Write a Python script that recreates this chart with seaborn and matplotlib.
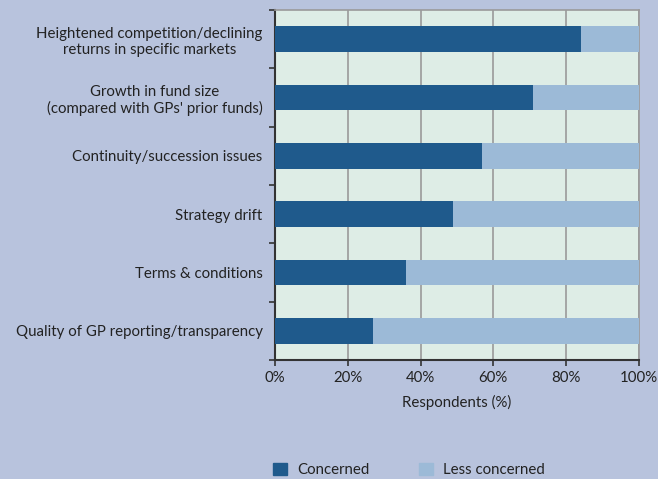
import numpy as np
import pandas as pd
import matplotlib
matplotlib.use("Agg")
import matplotlib.pyplot as plt
import matplotlib.patches as mpatches
import seaborn as sns

categories = [
    "Heightened competition/declining\nreturns in specific markets",
    "Growth in fund size\n(compared with GPs' prior funds)",
    "Continuity/succession issues",
    "Strategy drift",
    "Terms & conditions",
    "Quality of GP reporting/transparency",
]
concerned = [84.0, 70.8, 56.8, 48.9, 35.9, 26.9]
less_concerned = [100 - c for c in concerned]
x_ticks = [0, 20, 40, 60, 80, 100]
x_tick_labels = ["0%", "20%", "40%", "60%", "80%", "100%"]

dark = "#1f5a8c"
light = "#9cbad7"
fig_bg = "#b8c3dd"
ax_bg = "#deede6"
txt = "#222222"
fs = 10.8

sns.set_theme(style="white")
plt.rcParams["font.family"] = ["Lato", "DejaVu Sans"]

df = pd.DataFrame({
    "category": categories,
    "concerned": concerned,
    "total": [c + l for c, l in zip(concerned, less_concerned)],
})

fig = plt.figure(figsize=(6.58, 4.79), dpi=100, facecolor=fig_bg)
ax = fig.add_axes([0.418, 0.2484, 0.5527, 0.7306])
ax.set_facecolor(ax_bg)

sns.barplot(data=df, y="category", x="total", color=light, width=0.44,
            saturation=1, linewidth=0, ax=ax, zorder=3)
sns.barplot(data=df, y="category", x="concerned", color=dark, width=0.44,
            saturation=1, linewidth=0, ax=ax, zorder=4)

ax.set_xlim(0, 100)
ax.set_ylim(len(categories) - 0.5, -0.5)
ax.set_xticks(x_ticks)
ax.set_xticklabels(x_tick_labels, fontsize=fs, color=txt)
for x in x_ticks[1:]:
    ax.axvline(x, color="#9a9a9a", lw=1.2, zorder=1)

# y ticks: labels at centers, tick marks at band edges
ax.set_yticks(range(len(categories)))
ax.set_yticklabels(categories, fontsize=fs, color=txt,
                   multialignment="center")
ax.tick_params(axis="y", length=0, pad=9)
ax.set_yticks(np.arange(-0.5, len(categories)), minor=True)
ax.tick_params(axis="y", which="minor", length=4, width=1.2, color="#333333",
               direction="out", left=True)
ax.tick_params(axis="x", length=4, width=1.2, color="#333333",
               direction="out", bottom=True, pad=4)

for side in ["left", "bottom"]:
    ax.spines[side].set_color("#333333")
    ax.spines[side].set_linewidth(1.5)
for side in ["top", "right"]:
    ax.spines[side].set_color("#9a9a9a")
    ax.spines[side].set_linewidth(1.2)

ax.set_ylabel("")
ax.set_xlabel("Respondents (%)", fontsize=fs, color=txt, labelpad=7)

handles = [mpatches.Patch(color=dark, label="Concerned"),
           mpatches.Patch(color=light, label="Less concerned")]
fig.legend(handles=handles, loc="lower left", bbox_to_anchor=(0.395, -0.024),
           ncol=2, frameon=False, fontsize=fs, handlelength=0.9,
           handleheight=0.9, columnspacing=3.3, handletextpad=0.7,
           labelcolor=txt)

fig.savefig("out.png", dpi=100, facecolor=fig_bg)
